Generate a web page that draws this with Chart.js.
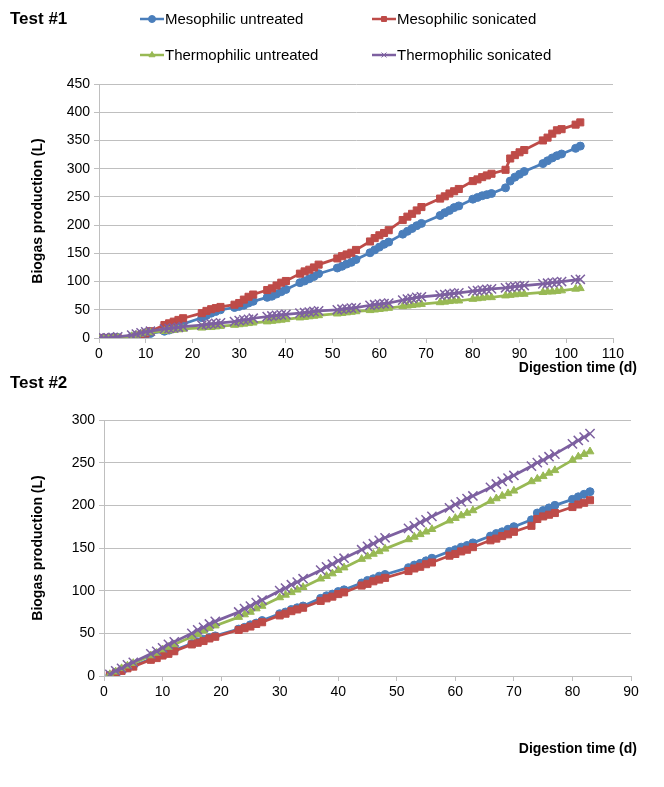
<!DOCTYPE html>
<html>
<head>
<meta charset="utf-8">
<script src="https://cdn.jsdelivr.net/npm/chart.js@4.4.0/dist/chart.umd.min.js"></script>
<style>
  body { margin: 0; background: #fff; font-family: "Liberation Sans", Arial, sans-serif; }
  #page { position: relative; width: 664px; height: 787px; overflow: hidden; }
  .test-title { position: absolute; left: 10px; font-weight: bold; font-size: 17px; color: #000; }
  .x-title { position: absolute; right: 27px; font-weight: bold; font-size: 14px; color: #000; }
  .wrap { position: absolute; left: 0; width: 664px; }
  .legend-item { position: absolute; display: flex; align-items: center; font-size: 15px; color: #000; white-space: nowrap; }
  .legend-item canvas { margin-right: 1px; }
</style>
</head>
<body>
<div id="page">
  <div class="wrap" style="top:0; height:392px"><canvas id="chart1" width="664" height="392"></canvas></div>
  <div class="wrap" style="top:392px; height:395px"><canvas id="chart2" width="664" height="395"></canvas></div>
  <div class="test-title" style="top:9px">Test #1</div>
  <div class="test-title" style="top:373px">Test #2</div>
  <div class="x-title" style="top:359px">Digestion time (d)</div>
  <div class="x-title" style="top:740px">Digestion time (d)</div>
  <div id="legend"></div>
</div>
<script>
// Названия серий
const seriesNames = ['Mesophilic untreated', 'Mesophilic sonicated', 'Thermophilic untreated', 'Thermophilic sonicated'];

// Test #1: дни измерений и накопленный биогаз (L)
const days1 = [0, 1, 2, 3, 4, 7, 8, 9, 10, 11, 14, 15, 16, 17, 18, 22, 23, 24, 25, 26,
    29, 30, 31, 32, 33, 36, 37, 38, 39, 40, 43, 44, 45, 46, 47, 51, 52, 53, 54, 55,
    58, 59, 60, 61, 62, 65, 66, 67, 68, 69, 73, 74, 75, 76, 77, 80, 81, 82, 83, 84,
    87, 88, 89, 90, 91, 95, 96, 97, 98, 99, 102, 103];
const mesoUntreated1 = [0, 0, 0, 1, 1, 2, 3, 4, 6, 8, 12, 14, 17, 20, 25, 36, 40, 44, 47, 50,
    54, 56, 58, 62, 65, 72, 74, 78, 82, 86, 98, 101, 105, 109, 114, 124, 127, 131, 134, 139,
    151, 156, 161, 166, 170, 184, 189, 194, 199, 203, 217, 222, 226, 231, 234, 246, 249, 252, 254, 256,
    266, 278, 285, 290, 295, 309, 314, 319, 323, 326, 336, 340];
const mesoSonicated1 = [0, 0, 0, 0, 0, 0, 2, 5, 8, 12, 23, 26, 29, 32, 35, 44, 48, 51, 53, 55,
    59, 62, 68, 73, 77, 85, 88, 93, 98, 101, 114, 118, 121, 125, 130, 141, 145, 148, 151, 156,
    171, 177, 182, 186, 191, 209, 215, 220, 226, 232, 247, 251, 256, 260, 264, 278, 281, 285, 288, 291,
    298, 318, 324, 329, 333, 350, 355, 362, 368, 370, 378, 382];
const thermoUntreated1 = [0, 0, 0, 0, 1, 3, 5, 7, 9, 10, 12, 13, 14, 15, 16, 18, 19, 19, 20, 21,
    23, 24, 25, 26, 27, 29, 30, 31, 32, 33, 36, 37, 38, 39, 40, 43, 44, 45, 46, 47,
    49, 50, 51, 52, 53, 56, 57, 58, 59, 60, 63, 64, 65, 66, 66, 69, 70, 71, 72, 72,
    75, 76, 77, 78, 78, 81, 82, 82, 83, 84, 87, 88];
const thermoSonicated1 = [0, 0, 0, 1, 2, 5, 7, 9, 11, 12, 16, 17, 18, 19, 20, 23, 24, 25, 26, 27,
    29, 31, 32, 33, 35, 38, 39, 40, 41, 42, 44, 45, 46, 47, 48, 50, 51, 52, 53, 54,
    58, 59, 60, 61, 62, 67, 69, 70, 72, 73, 76, 77, 78, 79, 80, 83, 84, 85, 86, 87,
    89, 90, 91, 92, 93, 96, 97, 98, 99, 100, 103, 104];

// Test #2
const days2 = [1, 2, 3, 4, 5, 8, 9, 10, 11, 12, 15, 16, 17, 18, 19, 23, 24, 25, 26, 27,
    30, 31, 32, 33, 34, 37, 38, 39, 40, 41, 44, 45, 46, 47, 48, 52, 53, 54, 55, 56,
    59, 60, 61, 62, 63, 66, 67, 68, 69, 70, 73, 74, 75, 76, 77, 80, 81, 82, 83];
const mesoUntreated2 = [1, 4, 7, 10, 12, 20, 23, 25, 28, 30, 38, 40, 43, 45, 47, 55, 57, 60, 62, 65,
    73, 75, 78, 80, 82, 91, 94, 96, 99, 101, 109, 112, 114, 117, 119, 127, 130, 132, 135, 138,
    146, 148, 151, 153, 156, 164, 167, 169, 172, 175, 183, 191, 194, 197, 200, 207, 210, 213, 216];
const mesoSonicated2 = [1, 3, 6, 9, 11, 19, 21, 24, 26, 29, 37, 39, 41, 44, 46, 54, 56, 58, 61, 63,
    71, 73, 76, 78, 80, 88, 91, 93, 96, 98, 106, 108, 111, 113, 115, 123, 126, 128, 131, 133,
    141, 143, 146, 148, 151, 159, 161, 164, 166, 169, 176, 184, 187, 189, 191, 198, 201, 203, 206];
const thermoUntreated2 = [2, 5, 9, 12, 15, 24, 27, 31, 34, 37, 46, 49, 53, 56, 59, 69, 72, 75, 79, 82,
    92, 95, 98, 101, 104, 114, 117, 120, 124, 127, 137, 140, 143, 146, 149, 160, 163, 166, 169, 172,
    182, 185, 188, 191, 194, 205, 208, 211, 214, 217, 228, 231, 234, 238, 241, 253, 257, 260, 263];
const thermoSonicated2 = [2, 6, 9, 13, 16, 26, 29, 33, 37, 40, 50, 54, 57, 61, 64, 75, 79, 82, 86, 89,
    100, 103, 107, 110, 114, 124, 128, 131, 135, 138, 148, 152, 155, 159, 162, 173, 176, 180, 183, 187,
    197, 201, 204, 208, 211, 221, 225, 228, 232, 235, 246, 250, 253, 257, 260, 272, 276, 280, 284];

// Границы осей
const xMax1 = 110, yMax1 = 450;
const xMax2 = 90, yMax2 = 300;

// Стиль серий (цвета Excel)
const seriesStyle = [
    { color: '#4A7EBB', marker: 'circle', radius: 4 },
    { color: '#BE4B48', marker: 'rect', radius: 5 },
    { color: '#98B954', marker: 'triangle', radius: 4.5 },
    { color: '#7D60A0', marker: 'crossRot', radius: 6.5 },
];

function makeDatasets(days, seriesList) {
    return seriesList.map((vals, i) => ({
        label: seriesNames[i],
        data: days.map((d, k) => ({ x: d, y: vals[k] })),
        borderColor: seriesStyle[i].color,
        backgroundColor: seriesStyle[i].color,
        borderWidth: 2.75,
        pointStyle: seriesStyle[i].marker,
        pointRadius: seriesStyle[i].radius,
        pointBorderWidth: seriesStyle[i].marker === 'crossRot' ? 1.5 : 1,
        pointBorderColor: seriesStyle[i].color,
        pointBackgroundColor: seriesStyle[i].color,
        tension: 0,
        order: 3 - i,
    }));
}

// Опции графика; plot - положение области построения
function makeOptions(xMax, yMax, plot) {
    return {
        responsive: false,
        animation: false,
        layout: { padding: { top: plot.top, right: plot.right, left: 30, bottom: 0 } },
        plugins: { legend: { display: false }, tooltip: { enabled: false } },
        scales: {
            x: {
                type: 'linear', min: 0, max: xMax,
                afterFit: (scale) => { scale.height = plot.xHeight; },
                ticks: { stepSize: 10, color: '#000', font: { size: 14, family: 'Liberation Sans' }, padding: 3, maxRotation: 0 },
                grid: { drawOnChartArea: false, drawTicks: true, tickLength: 5, color: '#BFBFBF' },
                border: { color: '#BFBFBF', width: 1 },
                title: { display: false }
            },
            y: {
                min: 0, max: yMax,
                afterFit: (scale) => { scale.width = plot.left - 30; },
                ticks: { stepSize: 50, color: '#000', font: { size: 14, family: 'Liberation Sans' }, padding: 4 },
                grid: { color: '#BFBFBF', tickLength: 5, lineWidth: 1 },
                border: { color: '#BFBFBF', width: 1 },
                title: {
                    display: true, text: 'Biogas production (L)', color: '#000',
                    font: { size: 14, weight: 'bold', family: 'Liberation Sans' },
                    padding: { top: 0, bottom: 0 }
                }
            }
        }
    };
}

new Chart(document.getElementById('chart1'), {
    type: 'line',
    data: { datasets: makeDatasets(days1, [mesoUntreated1, mesoSonicated1, thermoUntreated1, thermoSonicated1]) },
    options: makeOptions(xMax1, yMax1, { top: 84, right: 51, left: 99, xHeight: 54 })
});

new Chart(document.getElementById('chart2'), {
    type: 'line',
    data: { datasets: makeDatasets(days2, [mesoUntreated2, mesoSonicated2, thermoUntreated2, thermoSonicated2]) },
    options: makeOptions(xMax2, yMax2, { top: 28, right: 33, left: 104, xHeight: 111 })
});

// Легенда 2x2 сверху
(function() {
    const legend = document.getElementById('legend');
    const pos = [[140, 10], [372, 10], [140, 46], [372, 46]];
    seriesNames.forEach((name, i) => {
        const item = document.createElement('div');
        item.className = 'legend-item';
        item.style.left = pos[i][0] + 'px';
        item.style.top = pos[i][1] + 'px';
        const icon = document.createElement('canvas');
        icon.width = 24; icon.height = 16;
        const ctx = icon.getContext('2d');
        ctx.strokeStyle = seriesStyle[i].color;
        ctx.fillStyle = seriesStyle[i].color;
        ctx.lineWidth = 2.5;
        ctx.beginPath(); ctx.moveTo(0, 8); ctx.lineTo(24, 8); ctx.stroke();
        ctx.lineWidth = 1;
        Chart.helpers.drawPoint(ctx, { pointStyle: seriesStyle[i].marker, radius: 3.5, borderWidth: 1, rotation: 0 }, 12, 8);
        const span = document.createElement('span');
        span.textContent = name;
        item.appendChild(icon);
        item.appendChild(span);
        legend.appendChild(item);
    });
})();
</script>
</body>
</html>
